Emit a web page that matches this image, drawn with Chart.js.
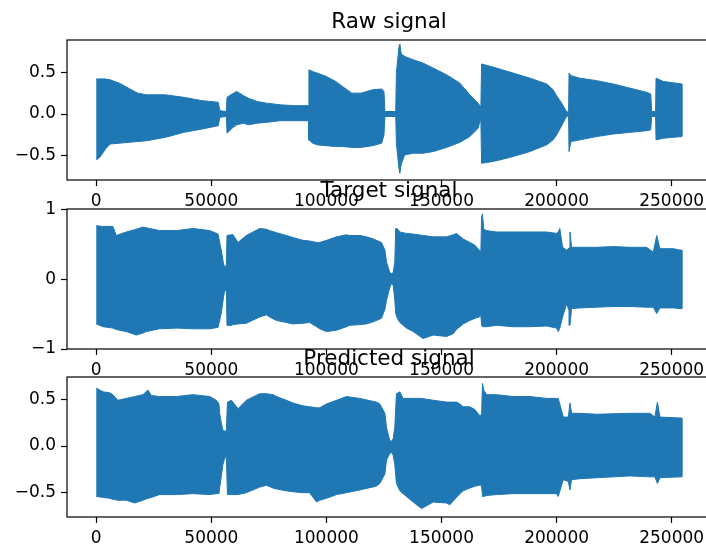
<!DOCTYPE html>
<html lang="en">
<head>
<meta charset="UTF-8">
<title>Signals</title>
<script src="https://cdn.jsdelivr.net/npm/chart.js@4.4.0/dist/chart.umd.min.js"></script>
<style>
    html, body {
        margin: 0;
        padding: 0;
        background: #fff;
        width: 706px;
        height: 546px;
        overflow: hidden;
    }
    .panel {
        position: absolute;
        left: 0;
    }
</style>
</head>
<body>
<canvas id="raw" class="panel" width="716" height="215" style="top:0px"></canvas>
<canvas id="target" class="panel" width="716" height="215" style="top:169px"></canvas>
<canvas id="pred" class="panel" width="716" height="215" style="top:337px"></canvas>
<script>
// envelope of each signal (max / min per chunk of samples)
const xTicks = [0, 50000, 100000, 150000, 200000, 250000];

const rawX = [0, 1500, 4000, 6000, 10000, 14000, 18000, 22000, 30000, 38000, 46000, 53000, 53700, 56500,
    56800, 59000, 61000, 64000, 66000, 70000, 74000, 80000, 86000, 92200,
    92400, 94000, 96000, 100000, 104000, 107000, 111000, 115000, 120000, 124000, 125000, 125400, 130100,
    130400, 131500, 131900, 132500, 134000, 137700, 142000, 146400, 152200, 158000, 162300, 165900, 166700, 167100,
    167400, 170000, 173900, 181100, 188400, 195700, 198500, 200000, 202200, 204300, 205200,
    205400, 206200, 210100, 217400, 224600, 231900, 239100, 240900, 241300, 243000,
    243200, 246400, 254400];
const rawHigh = [0.42, 0.42, 0.42, 0.41, 0.37, 0.31, 0.25, 0.23, 0.23, 0.20, 0.16, 0.14, 0.04, 0.03,
    0.20, 0.24, 0.27, 0.22, 0.19, 0.15, 0.13, 0.11, 0.10, 0.10,
    0.53, 0.51, 0.49, 0.45, 0.39, 0.33, 0.25, 0.25, 0.29, 0.30, 0.27, 0.03, 0.03,
    0.50, 0.80, 0.84, 0.72, 0.69, 0.65, 0.61, 0.55, 0.47, 0.37, 0.23, 0.13, 0.10, 0.08,
    0.60, 0.58, 0.55, 0.49, 0.43, 0.36, 0.29, 0.22, 0.13, 0.03, 0.02,
    0.49, 0.46, 0.43, 0.40, 0.36, 0.31, 0.26, 0.24, 0.03, 0.03,
    0.43, 0.39, 0.36];
const rawLow = [-0.55, -0.52, -0.42, -0.36, -0.35, -0.34, -0.33, -0.32, -0.28, -0.22, -0.18, -0.14, -0.04, -0.03,
    -0.23, -0.17, -0.13, -0.11, -0.13, -0.11, -0.10, -0.08, -0.08, -0.08,
    -0.31, -0.35, -0.37, -0.38, -0.39, -0.39, -0.40, -0.40, -0.38, -0.35, -0.25, -0.03, -0.03,
    -0.35, -0.65, -0.71, -0.60, -0.49, -0.47, -0.47, -0.45, -0.40, -0.34, -0.27, -0.17, -0.09, -0.07,
    -0.59, -0.58, -0.56, -0.51, -0.45, -0.37, -0.31, -0.25, -0.14, -0.03, -0.02,
    -0.45, -0.33, -0.31, -0.27, -0.24, -0.22, -0.20, -0.19, -0.03, -0.03,
    -0.31, -0.29, -0.27];

const targetX = [0, 2900, 7200, 8700, 13000, 17400, 20300, 21700, 27500, 34800, 42000, 49300, 52900, 54300, 55300, 55800, 56500,
    56800, 58700, 59400, 61600, 65200, 71000, 73900, 75300, 78300, 82600, 85500, 89800, 92700, 95700, 97100, 100000,
    104400, 108700, 110100, 114500, 117400, 120300, 123900, 125400, 126100, 127500, 128300, 129000, 129700,
    130100, 130700, 131900, 134800, 137700, 142000, 146400, 152200, 155100, 156500, 159400, 162300, 164500, 166400, 167100,
    167400, 167800, 168300, 169600, 173900, 181100, 188400, 195700, 200000, 200700, 201400, 202600, 204400, 205400,
    205800, 206500, 210100, 217400, 224600, 231900, 239100, 242000, 243500, 244900, 250700, 253600, 254400];
const targetHigh = [0.77, 0.76, 0.76, 0.63, 0.68, 0.72, 0.75, 0.74, 0.70, 0.70, 0.73, 0.70, 0.65, 0.42, 0.22, 0.18, 0.20,
    0.63, 0.64, 0.64, 0.53, 0.63, 0.73, 0.72, 0.70, 0.67, 0.63, 0.60, 0.56, 0.55, 0.53, 0.53, 0.56,
    0.61, 0.64, 0.63, 0.63, 0.61, 0.58, 0.53, 0.42, 0.25, 0.10, 0.08, 0.10, 0.25,
    0.73, 0.73, 0.68, 0.66, 0.65, 0.63, 0.61, 0.61, 0.64, 0.66, 0.58, 0.53, 0.49, 0.42, 0.40,
    0.90, 0.94, 0.72, 0.70, 0.68, 0.68, 0.68, 0.68, 0.66, 0.68, 0.73, 0.46, 0.42, 0.45,
    0.68, 0.46, 0.46, 0.46, 0.47, 0.46, 0.46, 0.39, 0.63, 0.44, 0.44, 0.42, 0.42];
const targetLow = [-0.64, -0.68, -0.70, -0.72, -0.75, -0.80, -0.77, -0.75, -0.71, -0.70, -0.71, -0.71, -0.69, -0.49, -0.25, -0.16, -0.16,
    -0.66, -0.66, -0.65, -0.64, -0.63, -0.54, -0.51, -0.54, -0.59, -0.62, -0.64, -0.63, -0.62, -0.68, -0.71, -0.75,
    -0.73, -0.68, -0.66, -0.65, -0.64, -0.61, -0.56, -0.43, -0.30, -0.12, -0.06, -0.08, -0.30,
    -0.49, -0.55, -0.62, -0.70, -0.75, -0.85, -0.80, -0.82, -0.78, -0.72, -0.64, -0.59, -0.56, -0.54, -0.52,
    -0.66, -0.68, -0.68, -0.68, -0.66, -0.68, -0.68, -0.67, -0.70, -0.75, -0.70, -0.54, -0.35, -0.45,
    -0.66, -0.42, -0.41, -0.40, -0.39, -0.39, -0.40, -0.40, -0.49, -0.41, -0.41, -0.42, -0.42];

const predX = [0, 2900, 5800, 7200, 9400, 13000, 16700, 20300, 22400, 24000, 27500, 34800, 42000, 49300, 52200, 53300, 53600, 54300, 55000, 55800, 56500,
    57000, 58700, 61600, 65200, 71000, 73900, 76800, 78300, 82600, 85500, 89800, 92700, 95700, 97100, 100000,
    104400, 108700, 114500, 121700, 123200, 125400, 126100, 127500, 128300, 129000, 129700,
    130400, 131900, 133300, 137700, 141300, 146400, 152200, 153600, 156500, 158000, 159400, 162300, 164500, 166400, 167400,
    167800, 168300, 169600, 173900, 181100, 188400, 195700, 200000, 200700, 202900, 205100,
    205800, 206500, 210100, 217400, 231900, 240500, 242700, 243800, 244900, 253600, 254400];
const predHigh = [0.62, 0.58, 0.57, 0.55, 0.49, 0.51, 0.53, 0.55, 0.60, 0.54, 0.53, 0.53, 0.55, 0.53, 0.49, 0.45, 0.35, 0.25, 0.17, 0.16, 0.16,
    0.47, 0.49, 0.40, 0.49, 0.56, 0.56, 0.55, 0.53, 0.49, 0.46, 0.43, 0.42, 0.41, 0.41, 0.45,
    0.49, 0.53, 0.51, 0.47, 0.45, 0.35, 0.20, 0.06, 0.05, 0.08, 0.20,
    0.56, 0.58, 0.51, 0.51, 0.51, 0.49, 0.47, 0.47, 0.47, 0.45, 0.42, 0.42, 0.39, 0.33, 0.33,
    0.67, 0.60, 0.55, 0.55, 0.53, 0.53, 0.51, 0.51, 0.51, 0.31, 0.31,
    0.46, 0.35, 0.35, 0.34, 0.35, 0.35, 0.31, 0.47, 0.31, 0.30, 0.30];
const predLow = [-0.54, -0.55, -0.56, -0.57, -0.58, -0.58, -0.61, -0.58, -0.56, -0.55, -0.52, -0.52, -0.51, -0.52, -0.51, -0.51, -0.45, -0.33, -0.20, -0.13, -0.12,
    -0.52, -0.52, -0.52, -0.50, -0.44, -0.42, -0.45, -0.46, -0.48, -0.49, -0.50, -0.50, -0.60, -0.58, -0.56,
    -0.52, -0.50, -0.47, -0.43, -0.40, -0.30, -0.15, -0.08, -0.07, -0.10, -0.20,
    -0.40, -0.48, -0.51, -0.60, -0.67, -0.60, -0.61, -0.63, -0.55, -0.51, -0.48, -0.45, -0.43, -0.42, -0.42,
    -0.54, -0.54, -0.53, -0.52, -0.51, -0.51, -0.51, -0.51, -0.54, -0.36, -0.38,
    -0.47, -0.36, -0.35, -0.34, -0.32, -0.33, -0.33, -0.40, -0.34, -0.33, -0.33];

const rawYTicks = [-0.5, 0, 0.5];
const targetYTicks = [-1, 0, 1];
const predYTicks = [-0.5, 0, 0.5];

const blue = '#1f77b4';
const FONT = "'DejaVu Sans', sans-serif";

// the whole envelope as one closed shape: top edge left->right, bottom edge back
function envelope(xs, hi, lo) {
    const pts = xs.map((x, i) => ({x: x, y: hi[i]}));
    for (let i = xs.length - 1; i >= 0; i--) {
        pts.push({x: xs[i], y: lo[i]});
    }
    return pts;
}

function fmt(v, decimals) {
    let s = decimals ? v.toFixed(decimals) : String(v);
    if (v < 0) s = '\u2212' + s.slice(1);
    return s;
}

// matplotlib style box around the axes + title centred over the axes
const frame = {
    id: 'frame',
    afterDraw: (chart, args, opts) => {
        const a = chart.chartArea;
        const ctx = chart.ctx;
        ctx.save();
        ctx.strokeStyle = '#000';
        ctx.lineWidth = 1.2;
        ctx.strokeRect(a.left, a.top, a.right - a.left, a.bottom - a.top);
        ctx.fillStyle = '#000';
        ctx.font = "21.5px " + FONT;
        ctx.textAlign = 'center';
        ctx.textBaseline = 'alphabetic';
        ctx.fillText(opts.text, (a.left + a.right) / 2, a.top - 12);
        ctx.restore();
    }
};

function makePanel(id, title, xs, hi, lo, yMin, yMax, yTicks, decimals) {
    return new Chart(document.getElementById(id), {
        type: 'line',
        data: {
            datasets: [{
                data: envelope(xs, hi, lo),
                borderColor: blue,
                backgroundColor: blue,
                borderWidth: 1,
                pointRadius: 0,
                tension: 0,
                fill: 'shape'
            }]
        },
        options: {
            responsive: false,
            animation: false,
            events: [],
            layout: {padding: {left: 0, right: 5, top: 40, bottom: 0}},
            plugins: {
                legend: {display: false},
                tooltip: {enabled: false},
                title: {display: false},
                frame: {text: title}
            },
            scales: {
                x: {
                    type: 'linear',
                    min: -12718,
                    max: 267080,
                    afterBuildTicks: s => { s.ticks = xTicks.map(v => ({value: v})); },
                    afterFit: s => { s.height = 35; },
                    border: {display: false},
                    grid: {drawOnChartArea: false, tickLength: 6, tickColor: '#000', tickWidth: 1.2},
                    ticks: {
                        color: '#000',
                        padding: 5,
                        maxRotation: 0,
                        font: {family: FONT, size: 17},
                        callback: v => String(v)
                    }
                },
                y: {
                    min: yMin,
                    max: yMax,
                    afterBuildTicks: s => { s.ticks = yTicks.map(v => ({value: v})); },
                    afterFit: s => { s.width = 67; },
                    border: {display: false},
                    grid: {drawOnChartArea: false, tickLength: 6, tickColor: '#000', tickWidth: 1.2},
                    ticks: {
                        color: '#000',
                        padding: 5,
                        font: {family: FONT, size: 17},
                        callback: v => fmt(v, decimals)
                    }
                }
            }
        },
        plugins: [frame]
    });
}

makePanel('raw', 'Raw signal', rawX, rawHigh, rawLow, -0.791, 0.887, rawYTicks, 1);
makePanel('target', 'Target signal', targetX, targetHigh, targetLow, -1.0, 1.01, targetYTicks, 0);
makePanel('pred', 'Predicted signal', predX, predHigh, predLow, -0.76, 0.739, predYTicks, 1);
</script>
</body>
</html>
